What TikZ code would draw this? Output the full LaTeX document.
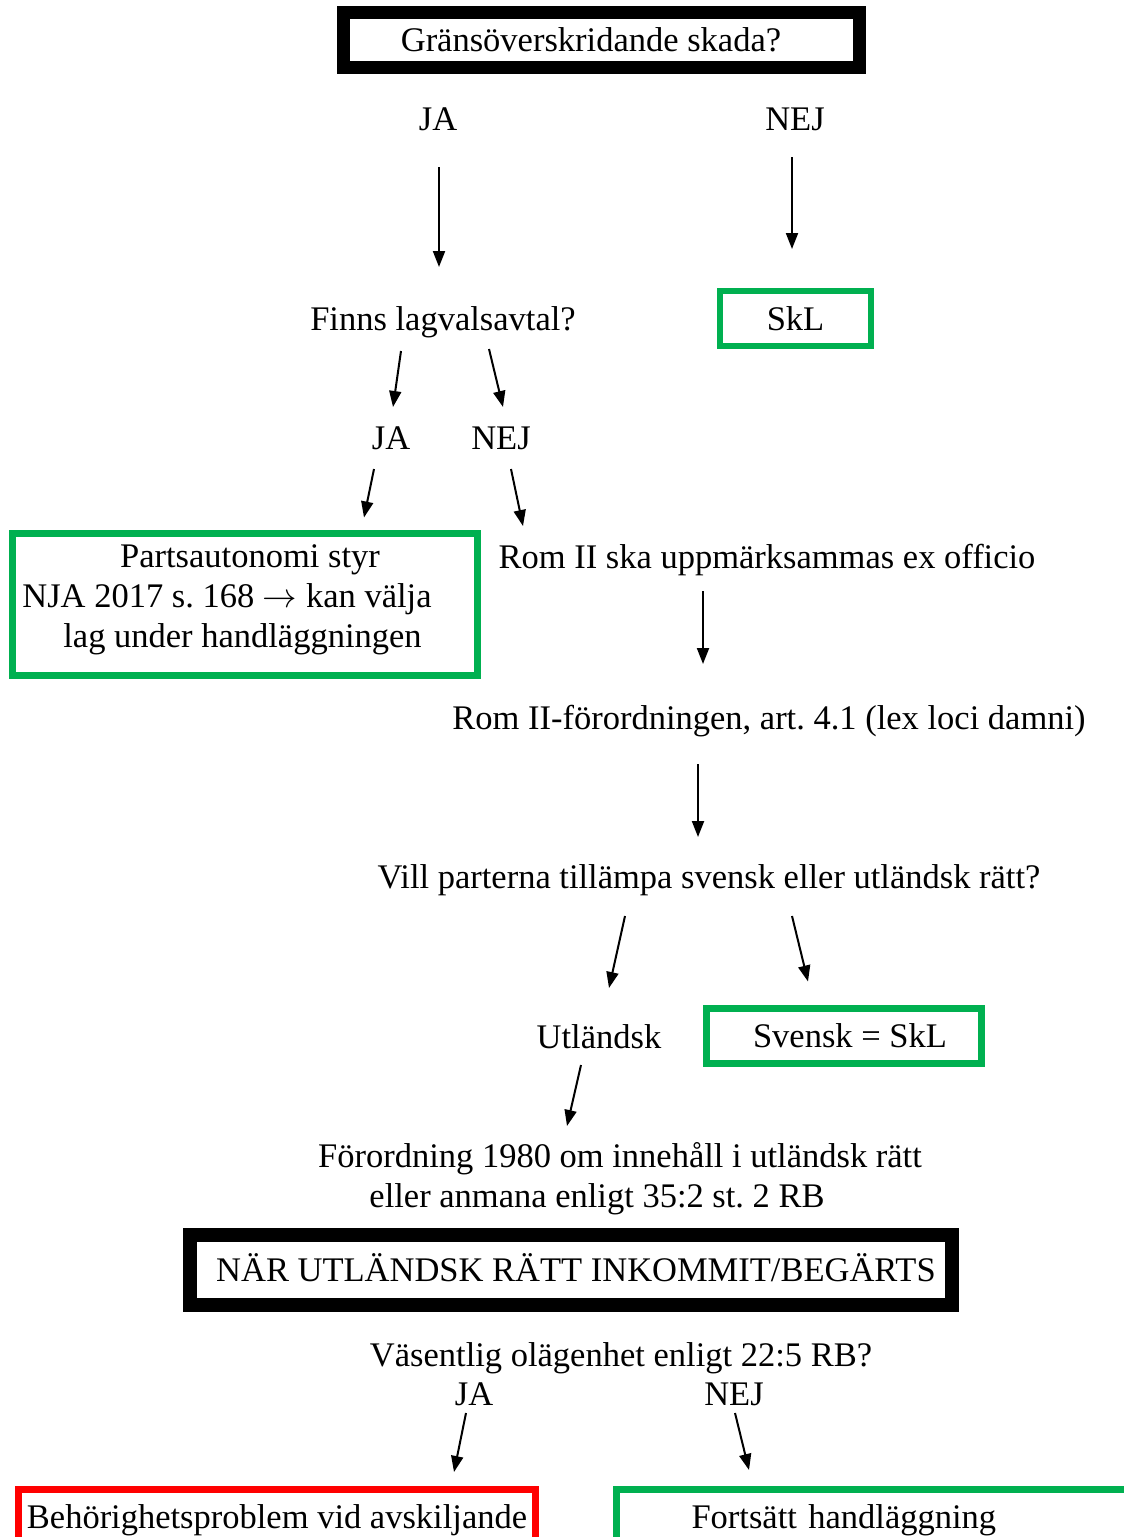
\documentclass[tikz,border=0pt]{standalone}
\usepackage{fix-cm}
\usepackage{fontspec}
\setmainfont{Liberation Serif}
\usetikzlibrary{arrows.meta}
\definecolor{wgreen}{HTML}{00B050}
\definecolor{wred}{HTML}{FF0000}
\frenchspacing
\begin{document}
\begin{tikzpicture}[x=1pt,y=-1pt,
  txt/.style={font=\fontsize{34.5}{40}\selectfont, inner sep=0pt, anchor=base, align=center},
  arr/.style={line width=2pt, -{Triangle[length=16pt,width=12pt]}},
  boxbase/.style={font=\fontsize{34.5}{40}\selectfont, inner sep=0pt},
  blackbox/.style={boxbase, draw=black, line width=13pt, text height=26pt, text depth=3pt},
  greenbox/.style={boxbase, draw=wgreen, line width=7pt},
  redbox/.style={boxbase, draw=wred, line width=7pt},
]
\useasboundingbox (0,0) rectangle (1124,1537);
\clip (0,0) rectangle (1124,1537);
\fill[white] (0,0) rectangle (1124,1537);

% boxes
\node[blackbox, minimum width=516pt, minimum height=55pt] (top) at (601.5,40) {Gränsöverskridande skada?\kern21pt};
\node[greenbox, line width=6pt, text height=26pt, text depth=3pt, minimum width=151pt, minimum height=55pt] (skl) at (795.5,318.5) {SkL};
\node[greenbox, align=center, minimum width=465pt, minimum height=142pt] (parts) at (245,604.5) {\kern10pt Partsautonomi styr\\NJA 2017 s. 168 $\rightarrow$ kan välja\kern36pt\\lag under handläggningen\kern5pt\rule[-16.5pt]{0pt}{1pt}};
\node[greenbox, text height=26pt, text depth=3pt, minimum width=275pt, minimum height=55pt] (svensk) at (844,1036) {\kern12pt Svensk = SkL};
\node[blackbox, line width=14pt, minimum width=762pt, minimum height=70pt] (nar) at (571,1270) {\kern10pt NÄR UTLÄNDSK RÄTT INKOMMIT/BEGÄRTS};
\node[redbox, anchor=north, text height=22pt, text depth=7pt, inner ysep=17.5pt, minimum width=517pt] (red) at (277,1485.5) {Behörighetsproblem vid avskiljande};
\node[greenbox, anchor=north west, text height=22pt, text depth=7pt, inner ysep=17.5pt, inner xsep=75.5pt, text width=600pt, align=left] (fort) at (612.5,1485.5) {Fortsätt handläggning};

% texts
\node[txt] (ja1) at (438,130) {JA};
\node[txt] (nej1) at (795,130) {NEJ};
\node[txt] (finns) at (443,330) {Finns lagvalsavtal?};
\node[txt] (ja2) at (391,449) {JA};
\node[txt] (nej2) at (501,449) {NEJ};
\node[txt] (rom1) at (767,568) {Rom II ska uppmärksammas ex officio};
\node[txt] (rom2) at (769,729) {Rom II-förordningen, art. 4.1 (lex loci damni)};
\node[txt] (vill) at (709,888) {Vill parterna tillämpa svensk eller utländsk rätt?};
\node[txt] (utl) at (599,1048) {Utländsk};
\node[txt] (forord1) at (620,1167) {Förordning 1980 om innehåll i utländsk rätt};
\node[txt] (forord2) at (597,1207) {eller anmana enligt 35:2 st. 2 RB};
\node[txt] (vas) at (621,1366) {Väsentlig olägenhet enligt 22:5 RB?};
\node[txt] (ja3) at (474,1405) {JA};
\node[txt] (nej3) at (734,1405) {NEJ};

% arrows
\draw[arr] ([shift={(1,37)}]ja1.base) -- ([shift={(-4,-63)}]finns.base);
\draw[arr] ([shift={(-3,27)}]nej1.base) -- ([shift={(-3.5,-39)}]skl.north);
\draw[arr] ([shift={(-42,21)}]finns.base) -- ([shift={(2,-42)}]ja2.base);
\draw[arr] ([shift={(46,19)}]finns.base) -- ([shift={(2,-42)}]nej2.base);
\draw[arr] ([shift={(-17,20)}]ja2.base) -- ([shift={(119,-12.5)}]parts.north);
\draw[arr] ([shift={(10,20)}]nej2.base) -- ([shift={(-244,-42)}]rom1.base);
\draw[arr] ([shift={(-64,23)}]rom1.base) -- ([shift={(-66,-65)}]rom2.base);
\draw[arr] ([shift={(-71,35)}]rom2.base) -- ([shift={(-11,-51)}]vill.base);
\draw[arr] ([shift={(-84,28)}]vill.base) -- ([shift={(10,-60)}]utl.base);
\draw[arr] ([shift={(83,28)}]vill.base) -- ([shift={(-36,-23.5)}]svensk.north);
\draw[arr] ([shift={(-18,17)}]utl.base) -- ([shift={(-53,-41)}]forord1.base);
\draw[arr] ([shift={(-8,8)}]ja3.base) -- ([shift={(177,-13.5)}]red.north);
\draw[arr] ([shift={(1,8)}]nej3.base) -- ([shift={(136.5,-15.5)}]fort.north west);
\end{tikzpicture}
\end{document}
